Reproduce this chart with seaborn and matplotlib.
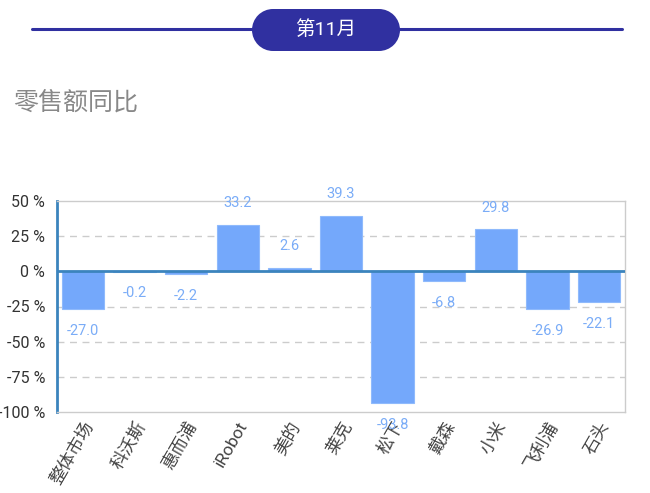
import matplotlib
matplotlib.use("Agg")
import matplotlib.pyplot as plt
import seaborn as sns
import pandas as pd
from matplotlib.patches import Rectangle, Circle
from matplotlib.transforms import IdentityTransform

# data
brands = ["整体市场", "科沃斯", "惠而浦", "iRobot", "美的", "莱克",
          "松下", "戴森", "小米", "飞利浦", "石头"]
yoy = [-27.0, -0.2, -2.2, 33.2, 2.6, 39.3, -93.8, -6.8, 29.8, -26.9, -22.1]
y_ticks = [50, 25, 0, -25, -50, -75, -100]
y_tick_labels = ["50 %", "25 %", "0 %", "-25 %", "-50 %", "-75 %", "-100 %"]

BAR = "#74a8fb"
AXIS_BLUE = "#3b84bd"
NAVY = "#3030a0"

sns.set_style("white")
plt.rcParams['font.family'] = ['Roboto', 'Noto Sans CJK SC', 'DejaVu Sans']

df = pd.DataFrame({"brand": brands, "yoy": yoy})

fig = plt.figure(figsize=(6.5, 4.93), dpi=100)
ax = fig.add_axes([57 / 650, 1 - 412 / 493, 568 / 650, 211 / 493])

sns.barplot(data=df, x="brand", y="yoy", color=BAR, width=0.82,
            saturation=1, edgecolor="#8fbafc", linewidth=0.8, ax=ax)

ax.set_ylim(-100, 50)
ax.set_xlim(-0.5, len(brands) - 0.5)
ax.set_yticks(y_ticks)
ax.set_yticklabels(y_tick_labels, fontsize=11.5, color="#333333")
ax.set_xticks(range(len(brands)))
ax.set_xticklabels(brands, rotation=60, ha="right", rotation_mode="anchor",
                   fontsize=12.5, color="#444444")
ax.tick_params(axis="y", length=0, pad=8.5)
ax.tick_params(axis="x", length=0, pad=5)
ax.set_xlabel("")
ax.set_ylabel("")

# dashed grid
for t in [25, -25, -50, -75]:
    ax.axhline(t, color="#cccccc", lw=1, ls=(0, (5, 4)), zorder=0)
ax.axhline(0, color=AXIS_BLUE, lw=2, zorder=3)

for side in ["top", "right", "bottom"]:
    ax.spines[side].set_color("#cccccc")
    ax.spines[side].set_linewidth(1)
ax.spines["left"].set_color(AXIS_BLUE)
ax.spines["left"].set_linewidth(2)

# value labels
for i, v in enumerate(yoy):
    off = 15.5 if v >= 0 else -15.5
    ax.text(i, v + off, f"{v:.1f}", ha="center", va="center",
            fontsize=10.5, color="#7aacf7", clip_on=False, zorder=5)

# header line and stadium-shaped pill (pixel coordinates, origin bottom-left)
fig.add_artist(plt.Line2D([32 / 650, 622 / 650], [1 - 29 / 493, 1 - 29 / 493],
                          color=NAVY, lw=2.2, transform=fig.transFigure))
px = IdentityTransform()
fig.add_artist(Rectangle((273, 493 - 51), 106, 42, transform=px,
                         facecolor=NAVY, edgecolor="none"))
for cx in (273, 379):
    fig.add_artist(Circle((cx, 493 - 30), 21, transform=px,
                          facecolor=NAVY, edgecolor="none"))
fig.text(326 / 650, 1 - 30 / 493, "第11月", ha="center", va="center",
         fontsize=14, color="white")

fig.text(13 / 650, 1 - 103 / 493, "零售额同比", ha="left", va="center",
         fontsize=18, color="#888888")

fig.savefig("out.png", dpi=100, facecolor="white")
